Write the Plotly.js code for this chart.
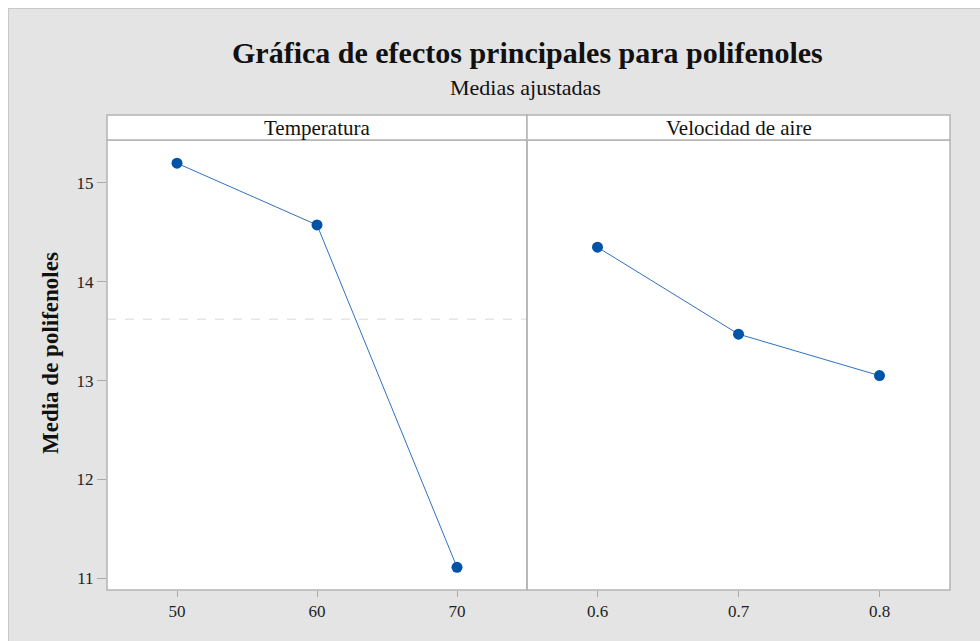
<!DOCTYPE html>
<html>
<head>
<meta charset="utf-8">
<script src="https://cdn.plot.ly/plotly-3.0.1.min.js"></script>
<style>
html,body{margin:0;padding:0;background:#ffffff;}
#frame{position:absolute;left:8px;top:8px;width:972px;height:633px;background:#e4e4e4;border-left:1px solid #c8c8c8;border-top:1px solid #c8c8c8;box-sizing:border-box;}
#chart{position:absolute;left:0;top:0;width:980px;height:641px;}
</style>
</head>
<body>
<div id="frame"></div>
<div id="chart"></div>
<script>
// Data
const tempLevels = [50, 60, 70];
const tempMeans = [15.20, 14.575, 11.11];
const airLevels = [0.6, 0.7, 0.8];
const airMeans = [14.35, 13.47, 13.05];
const panelNames = ["Temperatura", "Velocidad de aire"];
const yTicks = [11, 12, 13, 14, 15];
const tempTicks = [50, 60, 70];
const airTicks = [0.6, 0.7, 0.8];
const grandMean = 13.62;

const serif = "Liberation Serif, Times New Roman, serif";
const markerColor = "#0053a6";
const lineColor = "#2f72c0";
const frameColor = "#b4b4b4";

const traces = [
  {x: tempLevels, y: tempMeans, xaxis: "x", yaxis: "y", mode: "lines+markers",
   line: {color: lineColor, width: 1}, marker: {color: markerColor, size: 11}, hoverinfo: "x+y"},
  {x: airLevels, y: airMeans, xaxis: "x2", yaxis: "y", mode: "lines+markers",
   line: {color: lineColor, width: 1}, marker: {color: markerColor, size: 11}, hoverinfo: "x+y"}
];

const split = 420 / 843;
const stripH = 25 / 450;

const tickFont = {family: serif, size: 17, color: "#222"};

const layout = {
  width: 980, height: 641,
  paper_bgcolor: "rgba(0,0,0,0)",
  plot_bgcolor: "#ffffff",
  margin: {l: 107, r: 30, t: 140, b: 51, pad: 0},
  showlegend: false,
  xaxis: {domain: [0, split], range: [45, 75], tickvals: tempTicks, ticktext: tempTicks.map(String),
    ticks: "outside", ticklen: 6, tickcolor: "#aaaaaa", showgrid: false, zeroline: false,
    showline: false, tickfont: tickFont, fixedrange: true},
  xaxis2: {domain: [split, 1], range: [0.55, 0.85], tickvals: airTicks, ticktext: airTicks.map(v => v.toFixed(1)),
    ticks: "outside", ticklen: 6, tickcolor: "#aaaaaa", showgrid: false, zeroline: false,
    showline: false, tickfont: tickFont, anchor: "y", fixedrange: true},
  yaxis: {domain: [0, 1], range: [10.88, 15.435], tickvals: yTicks, ticktext: yTicks.map(String),
    ticks: "outside", ticklen: 9, tickcolor: "#aaaaaa", showgrid: false, zeroline: false,
    showline: false, tickfont: tickFont, fixedrange: true},
  shapes: [
    // mean reference line (panel 1)
    {type: "line", xref: "x domain", yref: "y", x0: 0, x1: 1, y0: grandMean, y1: grandMean,
     line: {color: "#e6e6e6", width: 1.5, dash: "dash"}, layer: "below"},
    // panel frames
    {type: "rect", xref: "paper", yref: "paper", x0: 0, x1: split, y0: 0, y1: 1,
     line: {color: frameColor, width: 1.5}},
    {type: "rect", xref: "paper", yref: "paper", x0: split, x1: 1, y0: 0, y1: 1,
     line: {color: frameColor, width: 1.5}},
    // strips
    {type: "rect", xref: "paper", yref: "paper", x0: 0, x1: split, y0: 1, y1: 1 + stripH,
     fillcolor: "#ffffff", line: {color: frameColor, width: 1.5}},
    {type: "rect", xref: "paper", yref: "paper", x0: split, x1: 1, y0: 1, y1: 1 + stripH,
     fillcolor: "#ffffff", line: {color: frameColor, width: 1.5}}
  ],
  annotations: [
    {text: "<b>Gráfica de efectos principales para polifenoles</b>", xref: "paper", yref: "paper",
     x: (527 - 107) / 843, y: 1 + (140 - 53) / 450, showarrow: false, xanchor: "center", yanchor: "middle",
     font: {family: serif, size: 30, color: "#111"}},
    {text: "Medias ajustadas", xref: "paper", yref: "paper",
     x: (525 - 107) / 843, y: 1 + (140 - 88) / 450, showarrow: false, xanchor: "center", yanchor: "middle",
     font: {family: serif, size: 22, color: "#111"}},
    {text: panelNames[0], xref: "paper", yref: "paper", x: split / 2, y: 1 + stripH / 2,
     showarrow: false, xanchor: "center", yanchor: "middle", font: {family: serif, size: 21, color: "#111"}},
    {text: panelNames[1], xref: "paper", yref: "paper", x: (split + 1) / 2, y: 1 + stripH / 2,
     showarrow: false, xanchor: "center", yanchor: "middle", font: {family: serif, size: 21, color: "#111"}},
    {text: "<b>Media de polifenoles</b>", xref: "paper", yref: "paper",
     x: (50 - 107) / 843, y: (590 - 353) / 450, textangle: -90, showarrow: false,
     xanchor: "center", yanchor: "middle", font: {family: serif, size: 23, color: "#111"}}
  ]
};

Plotly.newPlot("chart", traces, layout, {displayModeBar: false, staticPlot: true});
</script>
</body>
</html>
